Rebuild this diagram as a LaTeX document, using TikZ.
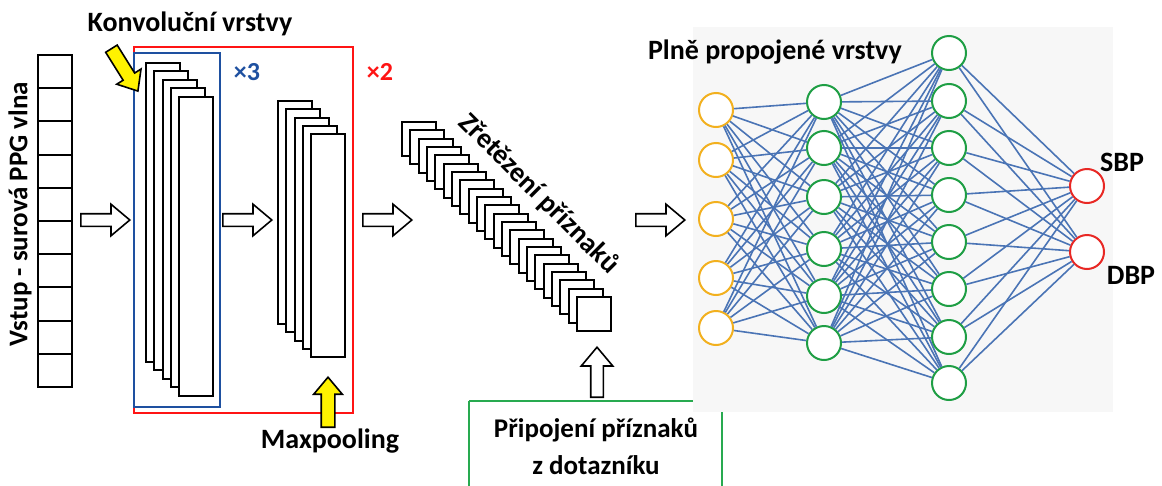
\documentclass[tikz,border=0pt]{standalone}
\usepackage{fontspec}
\setmainfont{Carlito}
\usetikzlibrary{shapes.arrows}
\definecolor{boxblue}{RGB}{30,80,160}
\definecolor{boxred}{RGB}{255,20,20}
\definecolor{edgeblue}{RGB}{74,116,181}
\definecolor{nodeyellow}{RGB}{242,176,30}
\definecolor{nodegreen}{RGB}{30,158,68}
\definecolor{nodered}{RGB}{232,40,36}
\definecolor{qgreen}{RGB}{40,170,80}
\tikzset{
  cell/.style={draw,line width=2pt,fill=white,minimum width=34pt,minimum height=33.2pt,inner sep=0pt},
  sheet/.style={draw,line width=2pt,fill=white},
  hollowarrow/.style={single arrow,draw,line width=1.6pt,fill=white,inner xsep=0pt,inner ysep=5.5pt,
    single arrow head extend=9.5pt,single arrow tip angle=80,minimum height=49pt,anchor=tail},
  yellowarrow/.style={single arrow,draw,line width=1.6pt,fill=yellow,inner xsep=0pt,inner ysep=6pt,
    single arrow head extend=7.5pt,single arrow tip angle=80,minimum height=50pt,anchor=tail},
  neuron/.style={circle,line width=2pt,fill=white,minimum size=34pt,inner sep=0pt},
  link/.style={edgeblue,line width=1.6pt},
  lab/.style={font=\bfseries\fontsize{28}{32}\selectfont}
}
\begin{document}
\begin{tikzpicture}[x=1pt,y=-1pt]
\useasboundingbox (0,0) rectangle (1162,485);
\foreach \i in {0,...,9}
  \node[cell] (in\i) at (55,{71.6+33.2*\i}) {};
\node[lab,rotate=90,font=\bfseries\fontsize{27}{30}\selectfont] (inlab) at (20,214) {Vstup - surová PPG vlna};
\draw[boxred,line width=2pt] (134,47) rectangle (353,413);
\draw[boxblue,line width=2pt] (134,53) rectangle (220,407);
\foreach \i in {0,...,4}
  \draw[sheet] ({146+8.3*\i},{63+8.4*\i}) rectangle +(34,299);
\foreach \i in {0,...,4}
  \draw[sheet] ({278+8.3*\i},{101+8.3*\i}) rectangle +(34,223);
\foreach \i in {0,...,21}
  \draw[sheet] ({402+8.33*\i},{122+8.33*\i}) rectangle +(34,34);
\node[lab] (convlab) at (190,24) {Konvoluční vrstvy};
\node[lab,boxblue,font=\bfseries\fontsize{26}{30}\selectfont] (times3) at (247,72) {×3};
\node[lab,boxred,font=\bfseries\fontsize{26}{30}\selectfont] (times2) at (380,72) {×2};
\node[yellowarrow,rotate=-58] (convarrow) at (111,48) {};
\node[yellowarrow,rotate=90] (poolarrow) at (328,428) {};
\node[lab] (poollab) at (330,441) {Maxpooling};
\node[hollowarrow] (arr1) at (80,220) {};
\node[hollowarrow] (arr2) at (222,220) {};
\node[hollowarrow] (arr3) at (362,220) {};
\node[hollowarrow] (arr4) at (635,220) {};
\node[hollowarrow,rotate=90,minimum height=50pt] (arr5) at (597,398) {};
\node[lab,rotate=-45] (catlab) at (539,194) {Zřetězení příznaků};
\draw[qgreen,line width=1.6pt] (469,401) -- (469,490) (469,401) -- (722,401) -- (722,490);
\node[lab,align=center,font=\bfseries\fontsize{27}{37}\selectfont] (qlab) at (596,446) {Připojení příznaků\\z dotazníku};
\fill[black!3] (693,27) rectangle (1113,412);
\node[lab] (fclab) at (775,52) {Plně propojené vrstvy};
\foreach \y [count=\i] in {110,160,219,278,328}
  \node[neuron,draw=nodeyellow] (a\i) at (716,\y) {};
\foreach \y [count=\i] in {102,148,197,249,296,343}
  \node[neuron,draw=nodegreen] (b\i) at (824,\y) {};
\foreach \y [count=\i] in {53,101,148,195,242,289,337,383}
  \node[neuron,draw=nodegreen] (c\i) at (949,\y) {};
\foreach \y [count=\i] in {186,252}
  \node[neuron,draw=nodered] (d\i) at (1087,\y) {};
\foreach \i in {1,...,5}
  \foreach \j in {1,...,6}
    \draw[link] (a\i) -- (b\j);
\foreach \i in {1,...,6}
  \foreach \j in {1,...,8}
    \draw[link] (b\i) -- (c\j);
\foreach \i in {1,...,8}
  \foreach \j in {1,2}
    \draw[link] (c\i) -- (d\j);
\node[lab] (sbp) at (1122,162) {SBP};
\node[lab] (dbp) at (1131,275) {DBP};
\end{tikzpicture}
\end{document}
